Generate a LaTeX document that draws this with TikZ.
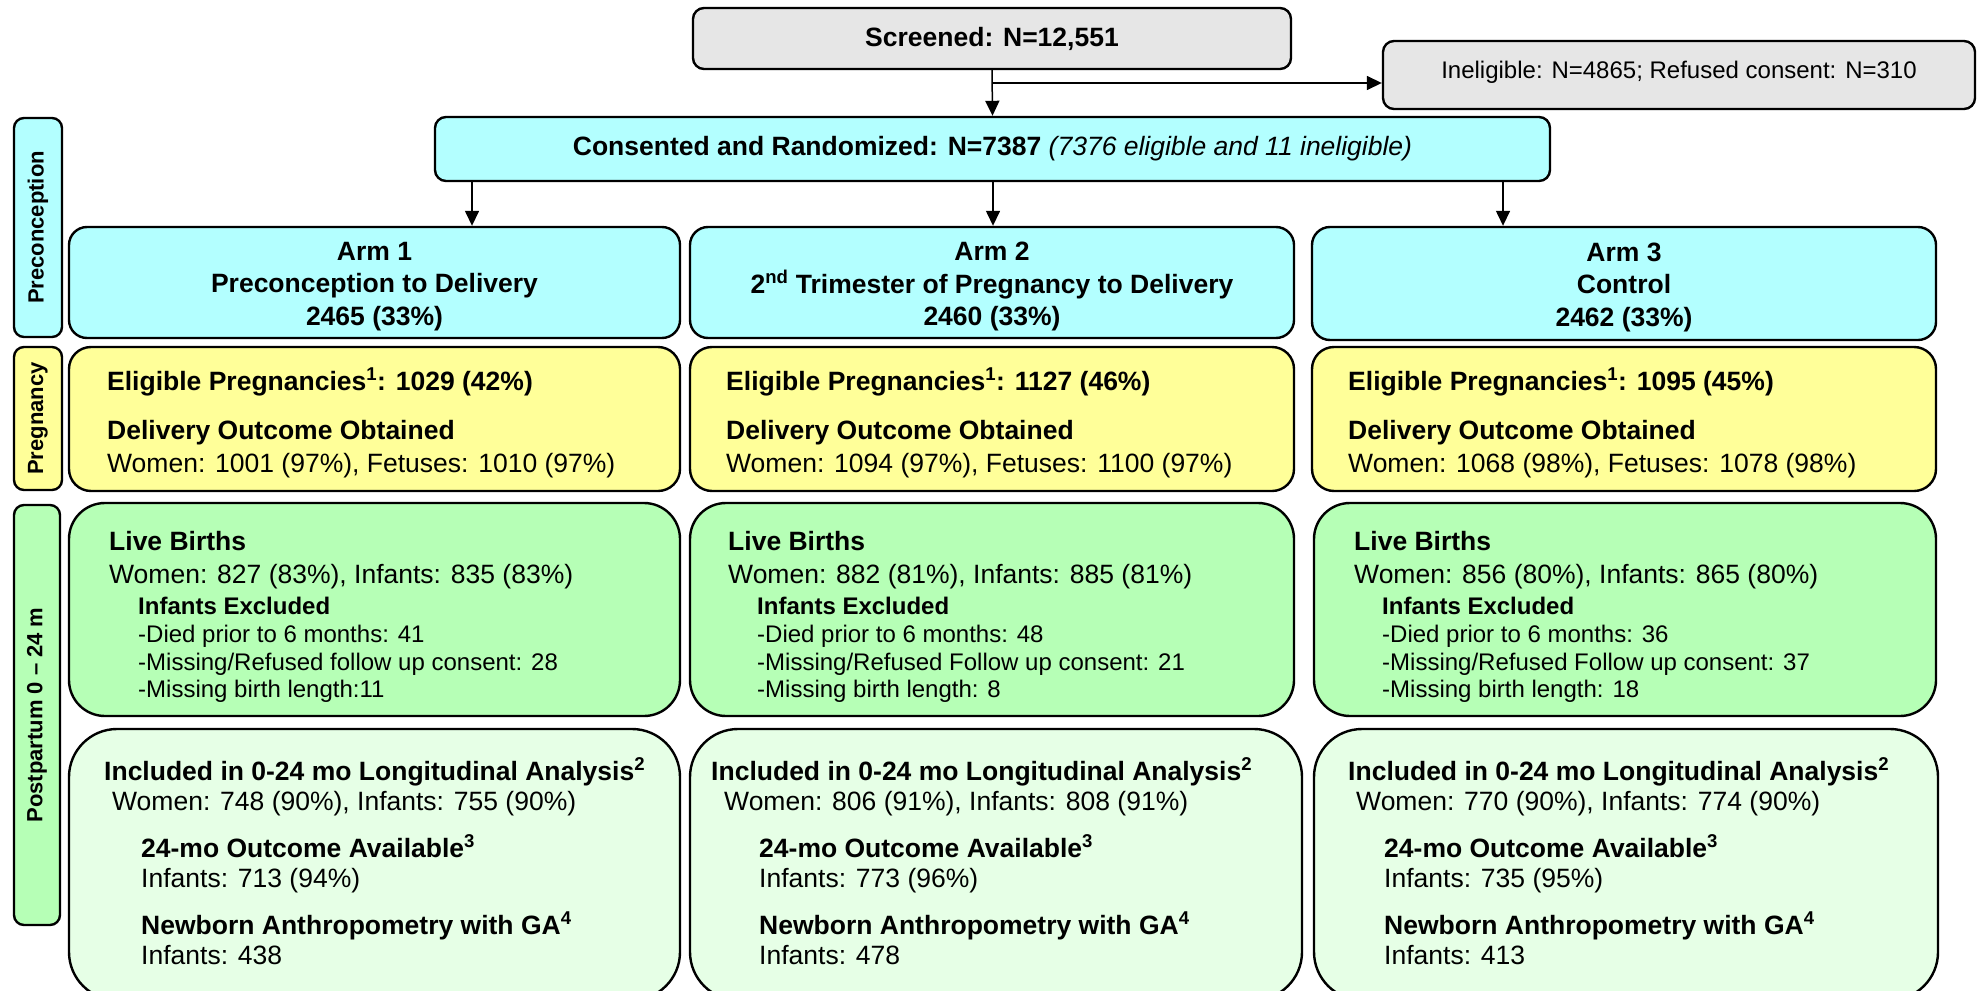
\documentclass[tikz,border=0pt]{standalone}
\usepackage{fontspec}
\setmainfont{Liberation Sans}
\usetikzlibrary{arrows.meta}
\definecolor{cyanbox}{HTML}{B3FFFF}
\definecolor{yelbox}{HTML}{FFFF99}
\definecolor{grnbox}{HTML}{B6FFB6}
\definecolor{lgrbox}{HTML}{E6FFE6}
\definecolor{graybox}{HTML}{E6E6E6}
% name, x1, y1, x2, y2, style, text
\newcommand\mkbox[7]{\node[bx,#6,minimum width={(#4-#2)*1pt},minimum height={(#5-#3)*1pt}] (#1) at ({(#2+#4)/2},{(#3+#5)/2}) {#7};}
\newcommand\pregtext[3]{%
  \node[tl,fb] (#1a) at (#2,390) {Eligible Pregnancies\textsuperscript{1}: #3};
  \node[tl,fb] (#1b) at (#2,439) {Delivery Outcome Obtained};}
\newcommand\livetext[7]{%
  \node[tl,fb] (#1a) at (#2,550) {Live Births};
  \node[tl,fr] (#1b) at (#2,583) {#4};
  \node[tl,sb] (#1c) at (#3,614) {Infants Excluded};
  \node[tl,sr] (#1d) at (#3,642) {#5};
  \node[tl,sr] (#1e) at (#3,670) {#6};
  \node[tl,sr] (#1f) at (#3,697) {#7};}
\newcommand\incltext[7]{%
  \node[tl,fb] (#1a) at (#2,780) {Included in 0-24 mo Longitudinal Analysis\textsuperscript{2}};
  \node[tl,fr] (#1b) at (#3,810) {#5};
  \node[tl,fb] (#1c) at (#4,857) {24-mo Outcome Available\textsuperscript{3}};
  \node[tl,fr] (#1d) at (#4,887) {#6};
  \node[tl,fb] (#1e) at (#4,934) {Newborn Anthropometry with GA\textsuperscript{4}};
  \node[tl,fr] (#1f) at (#4,964) {#7};}
\begin{document}
\begin{tikzpicture}[x=1pt,y=-1pt,
  bx/.style={draw=black,line width=2.4pt,inner sep=0pt,rectangle},
  tl/.style={anchor=base west,inner sep=0pt},
  fb/.style={font=\fontsize{26.5}{32}\selectfont\bfseries},
  fr/.style={font=\fontsize{26.5}{32}\selectfont},
  sb/.style={font=\fontsize{24}{28}\selectfont\bfseries},
  sr/.style={font=\fontsize{24}{28}\selectfont},
  topbox/.style={fill=graybox,rounded corners=11pt},
  armbox/.style={fill=cyanbox,rounded corners=18pt},
  armtxt/.style={inner sep=0pt,align=center,font=\fontsize{26.5}{32.5}\selectfont\bfseries},
  pregbox/.style={fill=yelbox,rounded corners=22pt},
  livebox/.style={fill=grnbox,rounded corners=36pt},
  inclbox/.style={fill=lgrbox,rounded corners=48pt},
  sidebox/.style={rounded corners=10pt,rotate=90,font=\fontsize{22}{26}\selectfont\bfseries},
  arr/.style={line width=1.5pt,-{Triangle[width=14pt,length=15pt]}}]
\useasboundingbox (0,0) rectangle (1977,990);
\clip (0,0) rectangle (1977,990);
\fill[white] (0,0) rectangle (1977,990);

% top boxes
\mkbox{scr}{693}{8}{1291}{69}{topbox,font=\fontsize{26.5}{32}\selectfont\bfseries}{Screened: N=12,551}
\mkbox{inel}{1383}{41}{1975}{109}{topbox}{}
\node[anchor=base,inner sep=0pt,font=\fontsize{24}{28}\selectfont] (ineltxt) at (1679,78) {Ineligible: N=4865; Refused consent: N=310};
\mkbox{cons}{435}{117}{1550}{181}{fill=cyanbox,rounded corners=11pt,font=\fontsize{26.5}{32}\selectfont}{\textbf{Consented and Randomized: N=7387} \textit{(7376 eligible and 11 ineligible)}}

% side labels (rotated: width is the vertical extent)
\node[bx,sidebox,fill=cyanbox,minimum width=219pt,minimum height=48pt] (sidepre) at (38,227.5) {Preconception};
\node[bx,sidebox,fill=yelbox,minimum width=143pt,minimum height=48pt] (sidepreg) at (38,418.5) {Pregnancy};
\node[bx,sidebox,fill=grnbox,minimum width=420pt,minimum height=46pt] (sidepost) at (37,715) {Postpartum 0 – 24 m};

% arm boxes
\mkbox{arm1}{69}{227}{680}{338}{armbox}{}
\mkbox{arm2}{690}{227}{1294}{338}{armbox}{}
\mkbox{arm3}{1312}{227}{1936}{340}{armbox}{}
\node[armtxt] (arm1t) at (374.5,286.5) {Arm 1\\Preconception to Delivery\\2465 (33\%)};
\node[armtxt] (arm2t) at (992,286.5) {Arm 2\\2\textsuperscript{nd} Trimester of Pregnancy to Delivery\\2460 (33\%)};
\node[armtxt] (arm3t) at (1624,287) {Arm 3\\Control\\2462 (33\%)};

% pregnancy boxes
\mkbox{preg1}{69}{347}{680}{491}{pregbox}{}
\mkbox{preg2}{690}{347}{1294}{491}{pregbox}{}
\mkbox{preg3}{1312}{347}{1936}{491}{pregbox}{}
\pregtext{pa}{107}{1029 (42\%)}
\node[tl,fr] (pac) at (107,472) {Women: 1001 (97\%), Fetuses: 1010 (97\%)};
\pregtext{pb}{726}{1127 (46\%)}
\node[tl,fr] (pbc) at (726,472) {Women: 1094 (97\%), Fetuses: 1100 (97\%)};
\pregtext{pc}{1348}{1095 (45\%)}
\node[tl,fr] (pcc) at (1348,472) {Women: 1068 (98\%), Fetuses: 1078 (98\%)};

% live birth boxes
\mkbox{live1}{69}{503}{680}{716}{livebox}{}
\mkbox{live2}{690}{503}{1294}{716}{livebox}{}
\mkbox{live3}{1314}{503}{1936}{716}{livebox}{}
\livetext{la}{109}{138}{Women: 827 (83\%), Infants: 835 (83\%)}{-Died prior to 6 months: 41}{-Missing/Refused follow up consent: 28}{-Missing birth length:11}
\livetext{lb}{728}{757}{Women: 882 (81\%), Infants: 885 (81\%)}{-Died prior to 6 months: 48}{-Missing/Refused Follow up consent: 21}{-Missing birth length: 8}
\livetext{lc}{1354}{1382}{Women: 856 (80\%), Infants: 865 (80\%)}{-Died prior to 6 months: 36}{-Missing/Refused Follow up consent: 37}{-Missing birth length: 18}

% included boxes
\mkbox{incl1}{69}{729}{680}{1000}{inclbox}{}
\mkbox{incl2}{690}{729}{1302}{1000}{inclbox}{}
\mkbox{incl3}{1314}{729}{1938}{1000}{inclbox}{}
\incltext{ia}{104}{112}{141}{Women: 748 (90\%), Infants: 755 (90\%)}{Infants: 713 (94\%)}{Infants: 438}
\incltext{ib}{711}{724}{759}{Women: 806 (91\%), Infants: 808 (91\%)}{Infants: 773 (96\%)}{Infants: 478}
\incltext{ic}{1348}{1356}{1384}{Women: 770 (90\%), Infants: 774 (90\%)}{Infants: 735 (95\%)}{Infants: 413}

% connectors
\draw[arr] (scr.south) -- (cons.north);
\coordinate (br) at (992,83);
\draw[arr] (br) -- (br -| inel.west);
\coordinate (x1) at (472,0);
\coordinate (x2) at (993,0);
\coordinate (x3) at (1503,0);
\draw[arr] (x1 |- cons.south) -- (x1 |- arm1.north);
\draw[arr] (x2 |- cons.south) -- (x2 |- arm2.north);
\draw[arr] (x3 |- cons.south) -- (x3 |- arm3.north);
\end{tikzpicture}
\end{document}
